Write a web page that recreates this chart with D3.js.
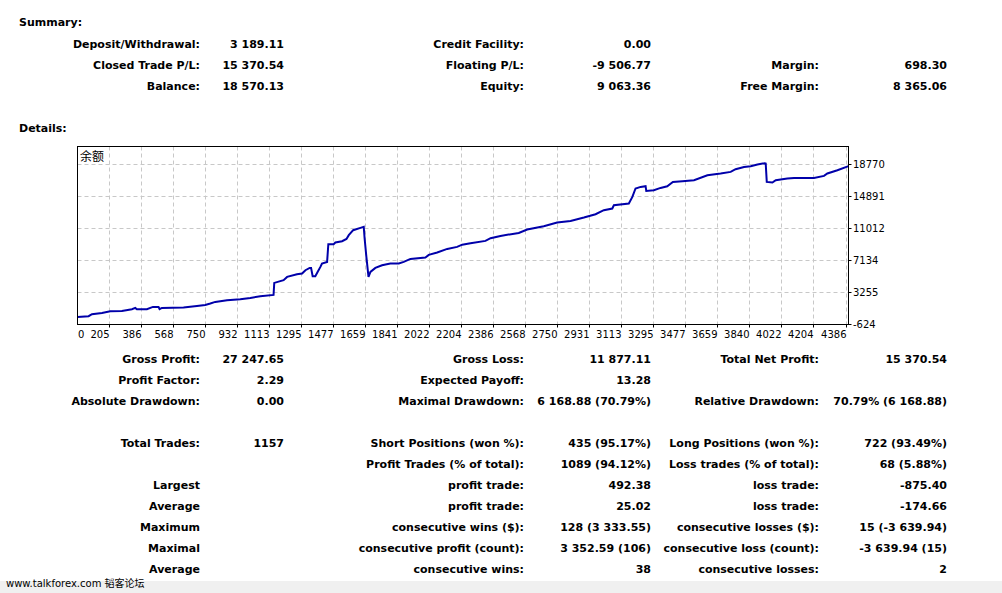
<!DOCTYPE html>
<html><head><meta charset="utf-8">
<script src="https://cdn.jsdelivr.net/npm/d3@7"></script>
<style>
html,body{margin:0;padding:0;background:#fff;}
svg{display:block;}
text{font-family:"DejaVu Sans","Noto Sans CJK SC",sans-serif;fill:#000;}
</style></head><body>
<svg id="c" width="1002" height="593"></svg>
<script>
// ---- data ----
const tradeIndex = [23,86,105,162,209,275,332,351,360,417,451,483,489,502,625,701,748,777,805,872,947,1004,1061,1136,1140,1193,1213,1269,1298,1317,1341,1349,1358,1373,1386,1402,1411,1440,1447,1477,1487,1525,1550,1563,1588,1629,1648,1653,1663,1675,1686,1714,1752,1799,1847,1875,1913,1998,2017,2065,2122,2178,2207,2254,2339,2368,2424,2528,2576,2670,2746,2822,2898,2964,3011,3059,3068,3153,3173,3191,3220,3248,3252,3295,3333,3371,3403,3457,3523,3599,3674,3731,3759,3807,3845,3883,3924,3930,3936,3968,3987,4053,4091,4204,4261,4280,4337,4400];
const balance = [297,382,624,782,988,1024,1230,1388,1230,1230,1509,1509,1230,1388,1436,1630,1752,1921,2115,2321,2442,2600,2806,2964,4418,4745,5145,5472,5557,5957,6236,6236,5230,5230,5751,6357,6769,6963,9108,9108,9314,9472,9751,10199,10805,11084,11205,9799,7569,5145,5751,6236,6563,6769,6769,6963,7327,7496,7812,8102,8539,8781,9050,9230,9508,9836,10114,10478,10890,11290,11738,11932,12344,12744,13229,13435,13835,14041,14841,15859,16053,16138,15568,15653,15932,16138,16659,16744,16865,17471,17677,17871,18198,18477,18562,18768,18926,18890,16659,16586,16865,17071,17144,17144,17386,17677,18077,18570];
const xTickLabels = [0,205,386,568,750,932,1113,1295,1477,1659,1841,2022,2204,2386,2568,2750,2931,3113,3295,3477,3659,3840,4022,4204,4386];
const yTickLabels = [-624,3255,7134,11012,14891,18770];
const seriesName = "余额";

const summaryTitle = "Summary:";
const detailsTitle = "Details:";
const summaryRows = [
  ["Deposit/Withdrawal:", "3 189.11", "Credit Facility:", "0.00", "", ""],
  ["Closed Trade P/L:", "15 370.54", "Floating P/L:", "-9 506.77", "Margin:", "698.30"],
  ["Balance:", "18 570.13", "Equity:", "9 063.36", "Free Margin:", "8 365.06"]
];
const detailRows = [
  ["Gross Profit:", "27 247.65", "Gross Loss:", "11 877.11", "Total Net Profit:", "15 370.54"],
  ["Profit Factor:", "2.29", "Expected Payoff:", "13.28", "", ""],
  ["Absolute Drawdown:", "0.00", "Maximal Drawdown:", "6 168.88 (70.79%)", "Relative Drawdown:", "70.79% (6 168.88)"],
  ["", "", "", "", "", ""],
  ["Total Trades:", "1157", "Short Positions (won %):", "435 (95.17%)", "Long Positions (won %):", "722 (93.49%)"],
  ["", "", "Profit Trades (% of total):", "1089 (94.12%)", "Loss trades (% of total):", "68 (5.88%)"],
  ["Largest", "", "profit trade:", "492.38", "loss trade:", "-875.40"],
  ["Average", "", "profit trade:", "25.02", "loss trade:", "-174.66"],
  ["Maximum", "", "consecutive wins ($):", "128 (3 333.55)", "consecutive losses ($):", "15 (-3 639.94)"],
  ["Maximal", "", "consecutive profit (count):", "3 352.59 (106)", "consecutive loss (count):", "-3 639.94 (15)"],
  ["Average", "", "consecutive wins:", "38", "consecutive losses:", "2"]
];
const watermark = "www.talkforex.com 韬客论坛";

// ---- layout ----
const svg = d3.select("#c");
const colRight = [200, 284, 524, 651, 819, 947];

function drawTable(rows, y0) {
  rows.forEach((r, i) => {
    r.forEach((t, j) => {
      if (!t) return;
      svg.append("text")
        .attr("x", colRight[j]).attr("y", y0 + i * 21)
        .attr("text-anchor", "end")
        .attr("font-weight", "bold").attr("font-size", 11)
        .text(t);
    });
  });
}
svg.append("text").attr("x", 19).attr("y", 26).attr("font-weight", "bold").attr("font-size", 11).text(summaryTitle);
drawTable(summaryRows, 48);
svg.append("text").attr("x", 19).attr("y", 132).attr("font-weight", "bold").attr("font-size", 11).text(detailsTitle);
drawTable(detailRows, 363);

// ---- chart ----
const P = {left: 77.5, top: 146.5, right: 848.5, bottom: 324.5};
const x = d3.scaleLinear().domain([23, 4400]).range([P.left, P.right]);
const y = d3.scaleLinear().domain([-624, 21012]).range([324.5, 146]);
const crisp = v => Math.floor(v) + 0.5;

const g = svg.append("g");
// grid
g.selectAll(".vg").data(xTickLabels.filter(v => v > x.domain()[0])).join("line")
  .attr("x1", d => crisp(x(d))).attr("x2", d => crisp(x(d)))
  .attr("y1", P.top).attr("y2", P.bottom)
  .attr("stroke", "#c8c8c8").attr("stroke-dasharray", "4,3");
g.selectAll(".hg").data(yTickLabels.slice(1)).join("line")
  .attr("y1", d => crisp(y(d))).attr("y2", d => crisp(y(d)))
  .attr("x1", P.left).attr("x2", P.right)
  .attr("stroke", "#c8c8c8").attr("stroke-dasharray", "4,3");

// line
svg.append("clipPath").attr("id", "clip").append("rect")
  .attr("x", P.left).attr("y", P.top).attr("width", P.right - P.left).attr("height", P.bottom - P.top);
const pts = tradeIndex.map((t, i) => [t, balance[i]]);
svg.append("path").datum(pts)
  .attr("clip-path", "url(#clip)")
  .attr("fill", "none").attr("stroke", "#0000aa").attr("stroke-width", 2)
  .attr("stroke-linejoin", "miter")
  .attr("d", d3.line().x(d => x(d[0])).y(d => y(d[1])));

// frame
svg.append("rect").attr("x", P.left).attr("y", P.top)
  .attr("width", P.right - P.left).attr("height", P.bottom - P.top)
  .attr("fill", "none").attr("stroke", "#000").attr("stroke-width", 1);

// series label
svg.append("text").attr("x", 80).attr("y", 161).attr("font-size", 12)
  .style("font-family", '"Noto Sans CJK SC",sans-serif').text(seriesName);

// y axis ticks + labels
svg.selectAll(".yt").data(yTickLabels).join("line")
  .attr("x1", P.right).attr("x2", P.right + 3)
  .attr("y1", d => crisp(y(d))).attr("y2", d => crisp(y(d)))
  .attr("stroke", "#000");
svg.selectAll(".yl").data(yTickLabels).join("text")
  .attr("x", 853).attr("y", d => y(d) + 3.8)
  .attr("font-size", 10).text(d => d);

// x axis ticks + labels
svg.selectAll(".xt").data(xTickLabels.filter(v => v > x.domain()[0])).join("line")
  .attr("x1", d => crisp(x(d))).attr("x2", d => crisp(x(d)))
  .attr("y1", P.bottom).attr("y2", P.bottom + 3)
  .attr("stroke", "#000");
svg.selectAll(".xl").data(xTickLabels).join("text")
  .attr("x", d => d < x.domain()[0] ? P.left + 0.5 : crisp(x(d)))
  .attr("y", 338)
  .attr("text-anchor", d => d < x.domain()[0] ? "start" : "end")
  .attr("font-size", 10).text(d => d);

// bottom strip + watermark
svg.append("rect").attr("x", 0).attr("y", 581).attr("width", 1002).attr("height", 12).attr("fill", "#f0f0f0");
svg.append("text").attr("x", 6).attr("y", 587).attr("font-size", 10).text(watermark);
</script>
</body></html>
